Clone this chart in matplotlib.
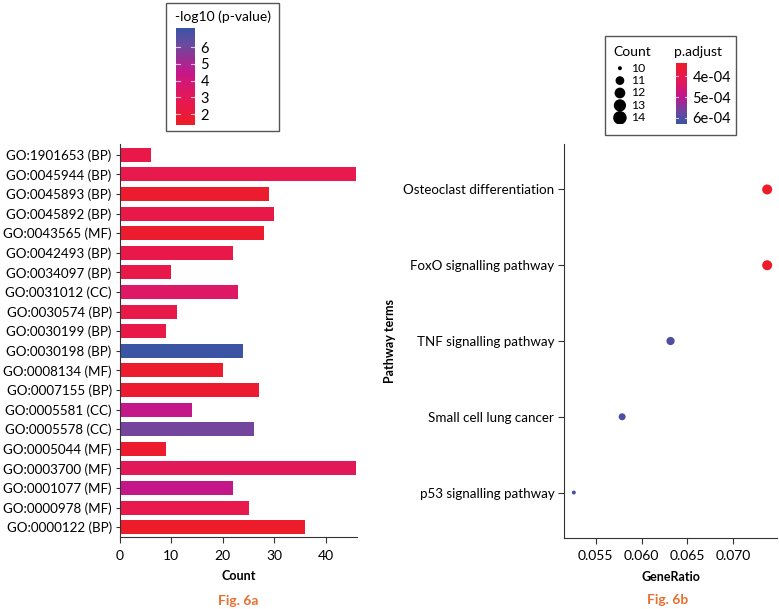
import numpy as np
import matplotlib
matplotlib.use("Agg")
import matplotlib.pyplot as plt
from matplotlib.colors import LinearSegmentedColormap, Normalize
from matplotlib.cm import ScalarMappable
from matplotlib.patches import Rectangle

plt.rcParams['font.family'] = ['Lato', 'DejaVu Sans']

# Fig. 6a data (top to bottom)
go_terms = ['GO:1901653 (BP)', 'GO:0045944 (BP)', 'GO:0045893 (BP)', 'GO:0045892 (BP)',
            'GO:0043565 (MF)', 'GO:0042493 (BP)', 'GO:0034097 (BP)', 'GO:0031012 (CC)',
            'GO:0030574 (BP)', 'GO:0030199 (BP)', 'GO:0030198 (BP)', 'GO:0008134 (MF)',
            'GO:0007155 (BP)', 'GO:0005581 (CC)', 'GO:0005578 (CC)', 'GO:0005044 (MF)',
            'GO:0003700 (MF)', 'GO:0001077 (MF)', 'GO:0000978 (MF)', 'GO:0000122 (BP)']
go_counts = [6, 46, 29, 30, 28, 22, 10, 23, 11, 9, 24, 20, 27, 14, 26, 9, 46, 22, 25, 36]
go_logp = [2.5, 2.6, 1.6, 2.5, 1.6, 2.5, 2.5, 3.4, 2.5, 2.5, 7.1, 1.6, 1.7, 4.5, 6.0,
           1.6, 3.0, 4.5, 2.6, 1.5]
logp_ticks = [2, 3, 4, 5, 6]

# Fig. 6b data (top to bottom)
pathways = ['Osteoclast differentiation', 'FoxO signalling pathway', 'TNF signalling pathway',
            'Small cell lung cancer', 'p53 signalling pathway']
gene_ratio = [0.07368, 0.07368, 0.06316, 0.05789, 0.05263]
path_counts = [14, 14, 12, 11, 10]
p_adjust = [3.4e-4, 3.4e-4, 6.05e-4, 6.05e-4, 6.1e-4]
count_levels = [10, 11, 12, 13, 14]
padj_ticks = [4e-4, 5e-4, 6e-4]

RED, BLUE = '#ED1C26', '#3A54A4'
cmap_a = LinearSegmentedColormap.from_list('a', [
    (0.0, RED), (0.2, '#E8194A'), (0.37, '#DC1867'), (0.54, '#C6168A'),
    (0.72, '#8E3596'), (0.83, '#6B4A9F'), (1.0, BLUE)])
norm_a = Normalize(1.35, 7.15)
cmap_b = LinearSegmentedColormap.from_list('b', [
    (0.0, RED), (0.3, '#E4175A'), (0.55, '#C0168C'), (0.8, '#6A479E'), (1.0, BLUE)])
norm_b = Normalize(3.35e-4, 6.3e-4)

W, H = 779, 609
fig = plt.figure(figsize=(W / 100, H / 100), dpi=100)


def fx(px):
    return px / W


def fy(py):
    return 1 - py / H


axis_col = '#333333'
tick_fs = 9.6
leg_fs = 10.5

# ---- left: bar chart
ax1 = fig.add_axes([fx(120), fy(537), fx(357 - 120), (537 - 144) / H])
y = np.arange(len(go_terms))
ax1.barh(y, go_counts, height=0.72, color=cmap_a(norm_a(np.array(go_logp))))
ax1.set_yticks(y)
ax1.set_yticklabels(go_terms, fontsize=tick_fs)
ax1.set_ylim(len(go_terms) - 0.5, -0.55)
ax1.set_xlim(0, 46.1)
ax1.set_xticks([0, 10, 20, 30, 40])
ax1.tick_params(axis='x', labelsize=10, length=4, color=axis_col, pad=5)
ax1.tick_params(axis='y', length=3, color=axis_col, pad=3)
ax1.set_xlabel('Count', fontsize=9, fontweight='bold', labelpad=6)
for s in ['top', 'right']:
    ax1.spines[s].set_visible(False)
for s in ['left', 'bottom']:
    ax1.spines[s].set_color(axis_col)

# ---- right: dot plot
ax2 = fig.add_axes([fx(564), fy(538), fx(777 - 564), (538 - 144) / H])
ypos = np.arange(len(pathways), 0, -1)


def dot_size(c, scale=6.0, base=4.0):
    d = base + scale * np.sqrt((np.asarray(c) - 10) / 4.0)
    return (d * 0.72) ** 2


ax2.scatter(gene_ratio, ypos, s=dot_size(path_counts), c=cmap_b(norm_b(np.array(p_adjust))),
            linewidths=0, zorder=3)
ax2.set_yticks(ypos)
ax2.set_yticklabels(pathways, fontsize=tick_fs)
ax2.set_ylim(0.4, 5.6)
ax2.set_xlim(0.05156, 0.07475)
ax2.set_xticks([0.055, 0.060, 0.065, 0.070])
ax2.set_xticklabels(['0.055', '0.060', '0.065', '0.070'])
ax2.tick_params(axis='x', labelsize=10, length=4, color=axis_col, pad=5)
ax2.tick_params(axis='y', length=4, color=axis_col, pad=3)
ax2.set_xlabel('GeneRatio', fontsize=9, fontweight='bold', labelpad=6)
ax2.set_ylabel('Pathway terms', fontsize=9, fontweight='bold', labelpad=5)
for s in ['top', 'right']:
    ax2.spines[s].set_visible(False)
for s in ['left', 'bottom']:
    ax2.spines[s].set_color(axis_col)

# ---- figure captions
fig.text(fx(238), fy(601), 'Fig. 6a', ha='center', va='center', fontsize=10,
         fontweight='bold', color='#E8702F')
fig.text(fx(668), fy(600), 'Fig. 6b', ha='center', va='center', fontsize=10,
         fontweight='bold', color='#E8702F')

# ---- legend for 6a
fig.patches.append(Rectangle((fx(166), fy(131)), fx(279 - 166), (131 - 3) / H,
                             transform=fig.transFigure, fill=False, ec='#555555', lw=1))
fig.text(fx(175), fy(17), '-log10 (p-value)', ha='left', va='center', fontsize=10)
cax1 = fig.add_axes([fx(176), fy(125), fx(19), 97 / H])
cb1 = fig.colorbar(ScalarMappable(norm=norm_a, cmap=cmap_a), cax=cax1, ticks=logp_ticks)
cb1.outline.set_visible(False)
cax1.tick_params(length=0, labelsize=leg_fs, pad=4)
for t in logp_ticks:
    cax1.plot([0, 0.2], [t, t], color='white', lw=0.8, alpha=0.7)
    cax1.plot([0.8, 1], [t, t], color='white', lw=0.8, alpha=0.7)

# ---- legend for 6b
fig.patches.append(Rectangle((fx(605), fy(135)), fx(736 - 605), (135 - 36) / H,
                             transform=fig.transFigure, fill=False, ec='#555555', lw=1))
fig.text(fx(613), fy(52), 'Count', ha='left', va='center', fontsize=10)
fig.text(fx(674), fy(52), 'p.adjust', ha='left', va='center', fontsize=10)
lax = fig.add_axes([fx(606), fy(124), fx(24), 62 / H])
lax.set_xlim(0, 1)
lax.set_ylim(len(count_levels) - 0.5, -0.5)
lax.axis('off')
lax.scatter([0.58] * len(count_levels), np.arange(len(count_levels)),
            s=dot_size(count_levels, scale=9.5), c='black', linewidths=0)
for i, c in enumerate(count_levels):
    lax.text(1.05, i, str(c), ha='left', va='center', fontsize=8.8,
             transform=lax.transData, clip_on=False)

cax2 = fig.add_axes([fx(676), fy(124), fx(11), 61 / H])
cb2 = fig.colorbar(ScalarMappable(norm=norm_b, cmap=cmap_b), cax=cax2, ticks=padj_ticks)
cb2.outline.set_visible(False)
cax2.invert_yaxis()
cb2.set_ticklabels(['4e-04', '5e-04', '6e-04'])
cax2.tick_params(length=0, labelsize=leg_fs, pad=4)
for t in padj_ticks:
    cax2.plot([0, 0.2], [t, t], color='white', lw=0.8, alpha=0.7)
    cax2.plot([0.8, 1], [t, t], color='white', lw=0.8, alpha=0.7)

fig.savefig('out.png', dpi=100)
